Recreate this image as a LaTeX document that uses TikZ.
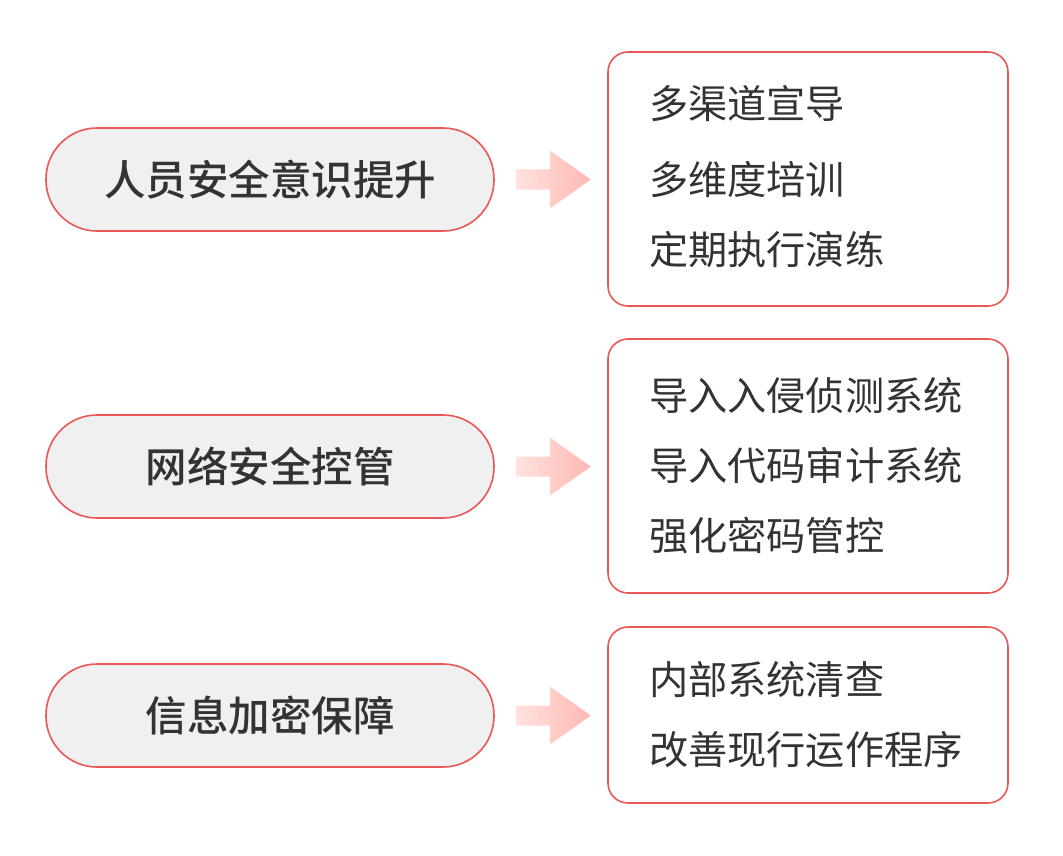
\documentclass[tikz,border=0pt]{standalone}
\usepackage{fontspec}
\setmainfont{Noto Sans CJK SC}
\newfontfamily\pillfont{Noto Sans CJK SC}[UprightFont=* Medium]
\definecolor{linered}{HTML}{E95757}
\definecolor{pillgray}{HTML}{F0F0F0}
\definecolor{textdark}{HTML}{333333}
\definecolor{arrowlight}{HTML}{FFE2DF}
\definecolor{arrowdark}{HTML}{FFB8B2}
\begin{document}
\begin{tikzpicture}%
	[x=1pt, y=-1pt,
	pill/.style={draw=linered, line width=1.6pt, fill=pillgray, rounded corners=51pt,
		minimum width=448pt, minimum height=103pt, inner sep=0pt,
		text=textdark, font=\fontsize{41.5}{48}\pillfont},
	itembox/.style={draw=linered, line width=1.6pt, fill=white, rounded corners=20pt,
		minimum width=400pt, inner xsep=0pt, text width=318pt, align=left,
		text=textdark, font=\fontsize{39.2}{70}\selectfont},
	flowarrow/.style={left color=arrowlight, right color=arrowdark, draw=none}]
%
\useasboundingbox (0,0) rectangle (1063,856);
%%
%% Left pills
%%
\node[pill] (awareness) at (270,179.5) {人员安全意识提升};
\node[pill] (network) at (270,466.5) {网络安全控管};
\node[pill] (encrypt) at (270,715.5) {信息加密保障};
%%
%% Right boxes
%%
\node[itembox, minimum height=254pt] (awarenessitems) at (808,179) {多渠道宣导\\[6pt]多维度培训\\定期执行演练\rule[-8pt]{0pt}{0pt}};
\node[itembox, minimum height=254pt] (networkitems) at (808,466) {导入入侵侦测系统\\导入代码审计系统\\强化密码管控};
\node[itembox, minimum height=176pt] (encryptitems) at (808,715) {内部系统清查\\改善现行运作程序};
%%
%% Arrows in between
%%
\foreach \from in {awareness,network,encrypt}{
	\path (\from.east) ++(21,0) coordinate (\from tail);
	\shade[flowarrow] (\from tail) ++(0,-10) -- ++(34,0) -- ++(0,-19) -- ++(41,29)
		-- ++(-41,29) -- ++(0,-19) -- ++(-34,0) -- cycle;
}
\end{tikzpicture}
\end{document}
